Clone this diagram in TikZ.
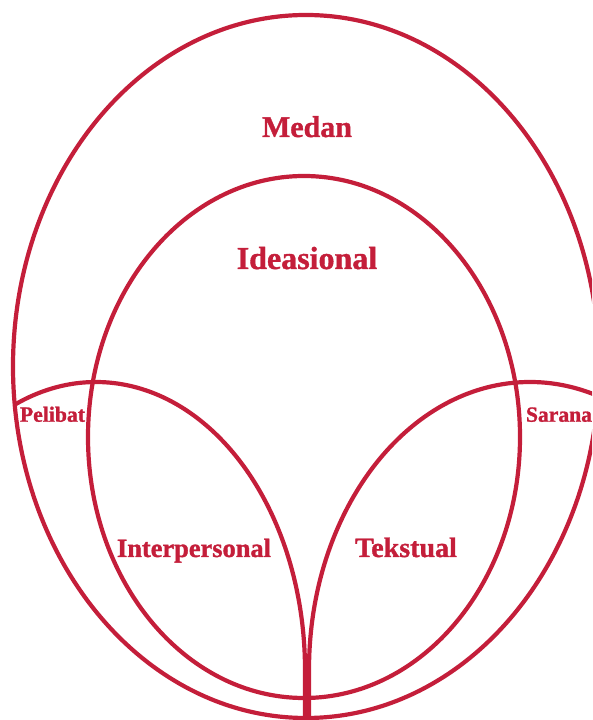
\documentclass[tikz,border=0pt]{standalone}
\usepackage{fontspec}
\setmainfont{Liberation Serif}[BoldFeatures={FakeBold=1.2}]
\definecolor{dred}{RGB}{196,30,58}
\begin{document}
\begin{tikzpicture}[x=1pt,y=1pt,
  curve/.style={draw=dred,line width=4.2pt},
  lbl/.style={text=dred,inner sep=0pt,anchor=base}]
\useasboundingbox (0,0) rectangle (592,720);
\begin{scope}
\clip (0,0) rectangle (592,720);
\draw[curve] (306,353.5) ellipse [x radius=293, y radius=351.5];
\draw[curve] (304,283) ellipse [x radius=216, y radius=261];
\draw[curve] (96,50) ++(112.5:209 and 288) arc[start angle=112.5,end angle=0,x radius=209,y radius=288] -- (305,0);
\draw[curve] (309,0) -- (309,50) arc[start angle=180,end angle=60,x radius=221,y radius=288];
\end{scope}
\node[lbl,font=\bfseries\fontsize{30}{36}\selectfont] (medan) at (307,583) {Medan};
\node[lbl,font=\bfseries\fontsize{32}{38}\selectfont] (ideas) at (307,451) {Ideasional};
\node[lbl,font=\bfseries\fontsize{21.7}{26}\selectfont] (pelibat) at (52.5,298.3) {Pelibat};
\node[lbl,font=\bfseries\fontsize{21.6}{26}\selectfont] (sarana) at (559,298.3) {Sarana};
\node[lbl,font=\bfseries\fontsize{26.4}{32}\selectfont] (inter) at (194,163) {Interpersonal};
\node[lbl,font=\bfseries\fontsize{28}{34}\selectfont] (teks) at (406,163) {Tekstual};
\end{tikzpicture}
\end{document}
